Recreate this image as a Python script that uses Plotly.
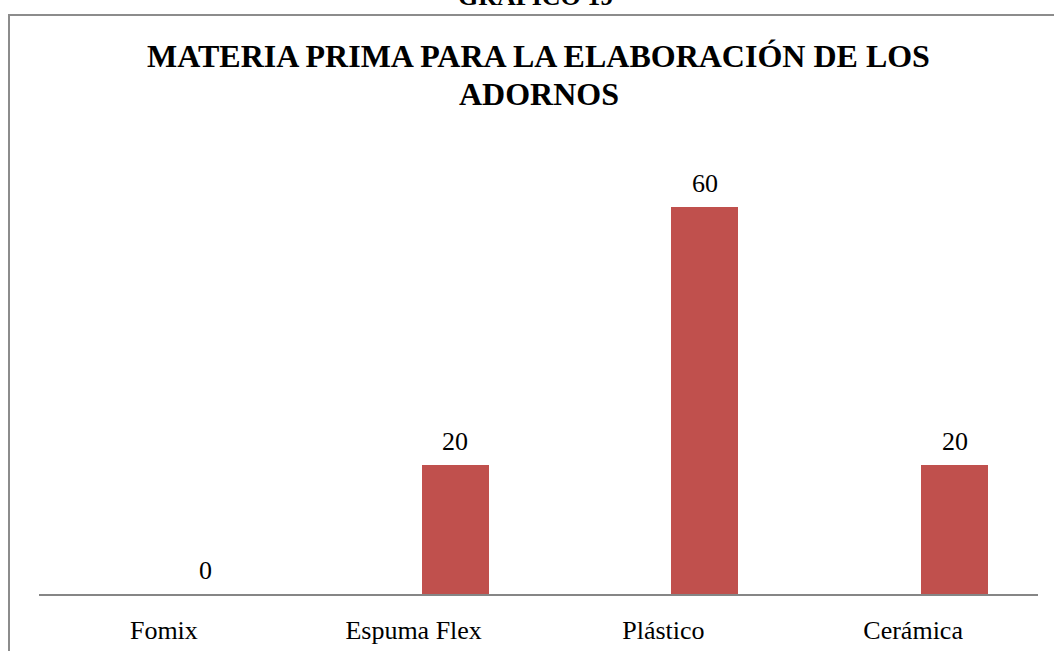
import plotly.graph_objects as go

categories = ["Fomix", "Espuma Flex", "Plástico", "Cerámica"]
values = [0, 20, 60, 20]
title_lines = ["MATERIA PRIMA PARA LA ELABORACIÓN DE LOS", "ADORNOS"]
header = "GRÁFICO 19"

W, H = 1054, 651
L, R, T, B = 39, 16, 143, 57
pw, ph = W - L - R, H - T - B
YMAX = 70
BAR_W = 0.268
BAR_OFF = 0.032
FONT = "Liberation Serif, Times New Roman, serif"


def px_x(x):
    return (x - L) / pw


def px_y(y):
    return (H - B - y) / ph


fig = go.Figure()
fig.add_trace(go.Bar(
    x=categories, y=values, width=BAR_W, offset=BAR_OFF,
    marker=dict(color="#C0504D", line=dict(width=0)),
    hoverinfo="x+y",
))

annotations = []
for i, v in enumerate(values):
    annotations.append(dict(
        x=i + BAR_OFF + BAR_W / 2, y=v, xref="x", yref="y",
        text=str(v), showarrow=False, yanchor="middle", yshift=24,
        font=dict(family=FONT, size=26, color="black"),
    ))

annotations.append(dict(
    x=0.5, y=px_y(56), xref="paper", yref="paper", text="<b>" + title_lines[0] + "</b>",
    showarrow=False, yanchor="middle", font=dict(family=FONT, size=32, color="black"),
))
annotations.append(dict(
    x=0.5, y=px_y(94), xref="paper", yref="paper", text="<b>" + title_lines[1] + "</b>",
    showarrow=False, yanchor="middle", font=dict(family=FONT, size=32, color="black"),
))
annotations.append(dict(
    x=px_x(535), y=px_y(-4), xref="paper", yref="paper", text="<b>" + header + "</b>",
    showarrow=False, yanchor="middle", font=dict(family=FONT, size=26, color="black"),
))

fig.update_layout(
    width=W, height=H,
    margin=dict(l=L, r=R, t=T, b=B, pad=0),
    paper_bgcolor="white", plot_bgcolor="white",
    showlegend=False,
    bargap=0,
    xaxis=dict(
        type="category", range=[-0.5, 3.5], showgrid=False, zeroline=False,
        showline=True, linecolor="#868686", linewidth=2, ticks="",
        tickfont=dict(family=FONT, size=26, color="black"),
        ticklabelstandoff=12, fixedrange=True, automargin=False,
    ),
    yaxis=dict(
        range=[0, YMAX], visible=False, showgrid=False, zeroline=False,
        fixedrange=True, automargin=False,
    ),
    annotations=annotations,
    shapes=[dict(
        type="rect", xref="paper", yref="paper",
        x0=px_x(9), x1=px_x(W + 20), y0=px_y(H + 20), y1=px_y(15),
        line=dict(color="#8C8C8C", width=2), fillcolor="rgba(0,0,0,0)", layer="below",
    )],
)

fig.write_html(
    "out.html",
    config={"displayModeBar": False},
    post_script="document.body.style.margin='0px';document.body.style.overflow='hidden';",
)
